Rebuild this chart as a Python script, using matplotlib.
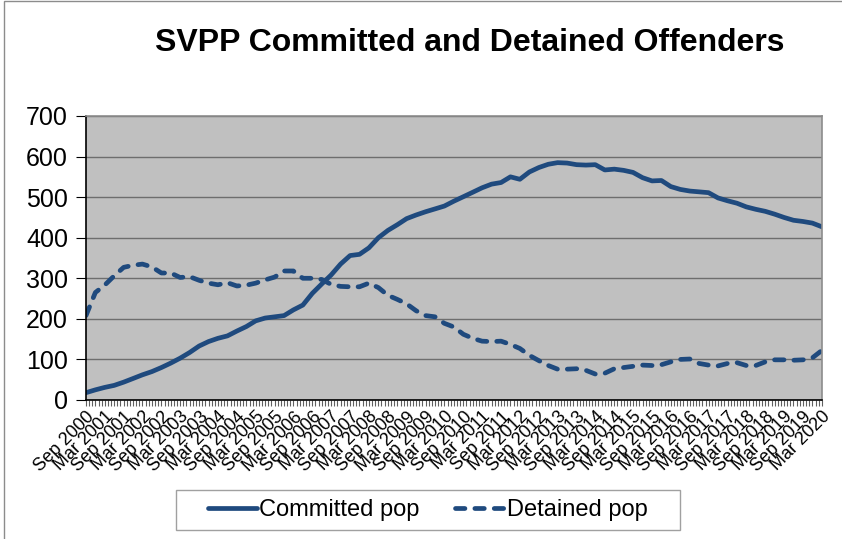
import numpy as np
import pandas as pd
import matplotlib
matplotlib.use('Agg')
import matplotlib.pyplot as plt
import matplotlib.dates as mdates
from matplotlib.patches import Rectangle

plt.rcParams['font.family'] = ['Liberation Sans', 'DejaVu Sans']

# quarterly readings, Sep 2000 .. Mar 2020
dates = pd.date_range('2000-09-01', '2020-03-01', freq='3MS')
committed = [18, 25, 31, 36, 44, 53, 62, 70, 80, 91,
             103, 117, 133, 144, 152, 158, 170, 181, 195, 202,
             205, 208, 222, 234, 263, 286, 308, 335, 356, 359,
             375, 400, 418, 432, 447, 456, 464, 471, 478, 490,
             501, 512, 523, 532, 536, 550, 544, 562, 573, 581,
             585, 584, 580, 579, 580, 567, 569, 566, 561, 548,
             540, 541, 526, 519, 515, 513, 511, 498, 491, 485,
             476, 470, 465, 458, 450, 443, 440, 436, 427]
detained = [208, 265, 283, 306, 327, 332, 335, 328, 313, 313,
            302, 304, 295, 288, 284, 289, 281, 283, 288, 296,
            303, 318, 318, 300, 300, 297, 285, 280, 279, 279,
            288, 277, 258, 248, 237, 220, 208, 205, 189, 180,
            162, 152, 145, 144, 145, 137, 127, 110, 97, 85,
            76, 76, 77, 73, 64, 66, 77, 80, 83, 86,
            85, 87, 94, 100, 101, 90, 86, 84, 90, 92,
            85, 85, 94, 99, 99, 98, 99, 104, 122]

tick_dates = pd.date_range('2000-09-01', '2020-03-01', freq='6MS')
tick_labels = ['Sep 2000', 'Mar 2001', 'Sep 2001', 'Mar 2002', 'Sep 2002',
               'Mar 2003', 'Sep 2003', 'Mar 2004', 'Sep 2004', 'Mar 2005',
               'Sep 2005', 'Mar 2006', 'Sep 2006', 'Mar 2007', 'Sep 2007',
               'Mar 2008', 'Sep 2008', 'Mar 2009', 'Sep 2009', 'Mar 2010',
               'Sep 2010', 'Mar 2011', 'Sep 2011', 'Mar 2012', 'Sep 2012',
               'Mar 2013', 'Sep 2013', 'Mar 2014', 'Sep 2014', 'Mar 2015',
               'Sep 2015', 'Mar 2016', 'Sep 2016', 'Mar 2017', 'Sep 2017',
               'Mar 2018', 'Sep 2018', 'Mar 2019', 'Sep 2019', 'Mar 2020']

navy = '#1F4A7E'
W, H = 842, 539

fig = plt.figure(figsize=(8.42, 5.39), dpi=100)
ax = fig.add_axes([0.1021, 0.2579, 0.8739, 0.5269])
ax.set_facecolor('#C0C0C0')

ax.plot(dates, committed, color=navy, lw=3.4, solid_capstyle='round',
        label='Committed pop')
ax.plot(dates, detained, color=navy, lw=3.4, linestyle=(0, (2, 2.1)),
        dash_capstyle='round', label='Detained pop')

ax.set_ylim(0, 700)
ax.set_yticks(np.arange(0, 701, 100))
ax.set_xlim(dates[0], dates[-1])
ax.yaxis.grid(True, color='#6E6E6E', lw=1)
ax.set_axisbelow(True)

ax.set_xticks(tick_dates, tick_labels)
ax.xaxis.set_minor_locator(mdates.MonthLocator())
for lab in ax.get_xticklabels():
    lab.set_rotation(45)
    lab.set_ha('right')
    lab.set_va('top')
    lab.set_rotation_mode('anchor')
ax.tick_params(axis='x', which='both', length=4, width=0.8, color='#606060',
               labelsize=13, pad=2)
ax.tick_params(axis='y', length=7, width=0.8, labelsize=18, pad=6)

ax.spines['left'].set_color('black')
ax.spines['bottom'].set_color('black')
ax.spines['top'].set_color('#8C8C8C')
ax.spines['right'].set_color('#8C8C8C')
for s in ax.spines.values():
    s.set_linewidth(1.2)

fig.text(0.558, 0.921, 'SVPP Committed and Detained Offenders',
         ha='center', va='center', fontsize=23, fontweight='bold')

leg = fig.legend(loc='center', bbox_to_anchor=(0.508, 0.054), ncol=2,
                 fontsize=17, frameon=False,
                 handlelength=2.1, handletextpad=0.1, columnspacing=1.5)

# legend box, drawn separately for its wide side padding
fig.patches.append(Rectangle((176 / W, 1 - 530 / H), 504 / W, 40 / H,
                             transform=fig.transFigure, fill=False,
                             edgecolor='#A0A0A0', lw=1))

# outer chart-area border (left and top visible)
fig.patches.append(Rectangle((0.0045, -0.2), 1.5, 1.198, transform=fig.transFigure,
                             fill=False, edgecolor='#8C8C8C', lw=1))

fig.savefig('out.png', dpi=100)
